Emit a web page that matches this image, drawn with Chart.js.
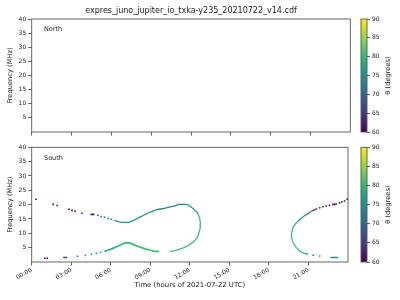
<!DOCTYPE html>
<html><head><meta charset="utf-8">
<script src="https://cdn.jsdelivr.net/npm/chart.js@4/dist/chart.umd.min.js"></script>
<style>
html,body{margin:0;padding:0;background:#fff;width:400px;height:300px;overflow:hidden}
#wrap{position:relative;width:400px;height:300px}
canvas{position:absolute}
</style></head><body><div id="wrap">
<canvas id="cTop" width="352" height="140" style="left:0;top:0"></canvas>
<canvas id="cBot" width="352" height="160" style="left:0;top:140px"></canvas>
<canvas id="cbTop" width="60" height="140" style="left:340px;top:0"></canvas>
<canvas id="cbBot" width="60" height="160" style="left:340px;top:140px"></canvas>
</div>
<script>
// ---------- data ----------
const chartTitle = 'expres_juno_jupiter_io_txka-y235_20210722_v14.cdf';
const xTitle = 'Time (hours of 2021-07-22 UTC)';
const yTitle = 'Frequency (MHz)';
const cbTitle = 'θ (degrees)';
const hourTicks = [0, 3, 6, 9, 12, 15, 18, 21];
const hourLabels = ['00:00', '03:00', '06:00', '09:00', '12:00', '15:00', '18:00', '21:00'];
const freqTicks = [5, 10, 15, 20, 25, 30, 35, 40];
const thetaTicks = [60, 65, 70, 75, 80, 85, 90];

// North hemisphere: no emission
const northTime = [];
const northFreq = [];
const northTheta = [];

// South hemisphere: main loop (continuous)
const loopTime  = [6.28, 6.53, 6.65, 7.00, 7.40, 7.54, 7.78, 8.03, 8.29, 8.54, 8.79, 9.04, 9.34, 9.67, 10.05, 10.42, 10.80, 11.17, 11.68, 11.93, 12.18, 12.43, 12.63, 12.74, 12.81, 12.78, 12.68, 12.56, 12.31, 11.93, 11.55, 11.18, 10.80, 10.47];
const loopFreq  = [14.5, 14.2, 13.9, 13.8, 13.8, 14.2, 14.6, 15.2, 15.8, 16.4, 17.0, 17.5, 18.0, 18.4, 18.7, 19.1, 19.5, 20.1, 20.1, 19.8, 18.9, 17.9, 16.7, 15.2, 13.5, 11.7, 10.0, 8.5, 7.1, 5.9, 5.0, 4.4, 3.9, 3.7];
const loopTheta = [74, 75, 76, 76, 76, 76, 76, 75, 75, 75, 74, 74, 73, 73, 73, 73, 73, 73, 74, 75, 76, 77, 78, 80, 81, 81, 81, 81, 81, 81, 81, 81, 81, 81];

// South: lower-left branch (continuous)
const lowTime  = [9.67, 9.29, 9.04, 8.67, 8.29, 7.91, 7.50, 7.20, 7.03, 6.78, 6.53, 6.28, 6.03, 5.77, 5.52];
const lowFreq  = [3.7, 3.7, 4.1, 4.5, 5.1, 5.7, 6.6, 6.7, 6.6, 6.0, 5.5, 5.0, 4.5, 4.1, 3.7];
const lowTheta = [81, 81, 81, 81, 81, 81, 81, 81, 81, 80, 80, 79, 79, 78, 78];

// South: right loop (continuous)
const rightTime  = [21.65, 21.42, 21.22, 21.05, 20.90, 20.75, 20.60, 20.47, 20.35, 20.22, 20.09, 19.97, 19.84, 19.77, 19.71, 19.71, 19.77, 19.84, 19.97, 20.09, 20.27, 20.47, 20.72, 20.97];
const rightFreq  = [18.6, 18.1, 17.7, 17.2, 16.7, 16.3, 15.8, 15.3, 14.9, 14.3, 13.7, 13.0, 12.2, 11.0, 9.9, 8.7, 7.6, 6.7, 5.8, 5.0, 4.1, 3.4, 3.0, 2.7];
const rightTheta = [64, 66, 68, 70, 72, 73, 74, 75, 76, 77, 78, 79, 80, 80, 81, 81, 81, 81, 81, 81, 80, 79, 78, 77];

// South: sparse dots
const dotsTime  = [0.32, 1.63, 1.93, 2.83, 3.06, 3.29, 3.82, 4.52, 4.61, 4.70, 5.02, 5.27, 5.52, 5.80, 6.03,
                   1.00, 1.18, 2.45, 2.55, 2.64, 3.47, 4.07, 4.52, 4.90, 5.22,
                   21.85, 22.10, 22.35, 22.60, 22.86, 22.98, 23.10, 23.36, 23.53, 23.74, 23.93,
                   21.35, 21.85, 22.73, 22.85, 22.95, 23.07, 23.18];
const dotsFreq  = [21.9, 20.1, 19.7, 18.4, 18.0, 17.7, 17.0, 16.6, 16.6, 16.6, 16.3, 15.9, 15.6, 15.2, 14.9,
                   1.3, 1.3, 1.6, 1.6, 1.6, 2.0, 2.3, 2.7, 3.0, 3.4,
                   18.9, 19.3, 19.5, 19.8, 20.1, 20.1, 20.2, 20.6, 20.9, 21.3, 21.9,
                   2.4, 2.1, 1.6, 1.6, 1.6, 1.6, 1.6];
const dotsTheta = [60, 60, 60, 60, 60, 60, 61, 63, 63, 63, 67, 69, 71, 72, 73,
                   60, 60, 66, 66, 66, 72, 74, 75, 76, 77,
                   63, 61, 60, 60, 60, 60, 60, 60, 60, 60, 60,
                   76, 76, 73, 73, 73, 73, 73];

// ---------- styling helpers ----------
const VIRIDIS = ['#440154','#482475','#414487','#355f8d','#2a788e','#21918c','#22a884','#44bf70','#7ad151','#bddf26','#fde725'];
const TH_MIN = 60, TH_MAX = 90;
function hex(c){return [parseInt(c.slice(1,3),16),parseInt(c.slice(3,5),16),parseInt(c.slice(5,7),16)];}
function viridis(th){
  let u = (th - TH_MIN) / (TH_MAX - TH_MIN); u = Math.max(0, Math.min(1, u));
  const p = u * (VIRIDIS.length - 1); const i = Math.min(Math.floor(p), VIRIDIS.length - 2); const f = p - i;
  const a = hex(VIRIDIS[i]), b = hex(VIRIDIS[i+1]);
  return 'rgb(' + a.map((v,k)=>Math.round(v + (b[k]-v)*f)).join(',') + ')';
}
const FONT = 'DejaVu Sans';
const TXT = '#222';
const AX = '#555';

const framePlugin = {
  id: 'frame',
  afterDraw(chart){
    const {ctx, chartArea: a} = chart;
    ctx.save(); ctx.strokeStyle = AX; ctx.lineWidth = 0.9;
    ctx.strokeRect(a.left, a.top, a.width, a.height);
    ctx.restore();
  }
};
const panelLabel = {
  id: 'panelLabel',
  afterDraw(chart, args, opts){
    if (!opts) return;
    const {ctx, chartArea: a} = chart;
    ctx.save(); ctx.fillStyle = TXT;
    if (opts.text) {
      ctx.font = '6.5px "' + FONT + '"';
      ctx.textAlign = 'left'; ctx.textBaseline = 'middle';
      ctx.fillText(opts.text, a.left + 12.3, a.top + 10.8);
    }
    if (opts.title) {
      ctx.font = '8px "' + FONT + '"';
      ctx.textAlign = 'center'; ctx.textBaseline = 'middle';
      ctx.fillText(opts.title, (a.left + a.right) / 2, a.top - 8);
    }
    ctx.restore();
  }
};

function lineSet(t, f, th, w){
  return {
    data: t.map((v,i)=>({x: v, y: f[i]})),
    showLine: true, pointRadius: 0, borderWidth: w, borderColor: viridis(th[0]),
    segment: { borderColor: c => viridis((th[c.p0DataIndex] + th[c.p1DataIndex]) / 2) },
    fill: false, tension: 0
  };
}
function dotSet(t, f, th){
  return {
    data: t.map((v,i)=>({x: v, y: f[i]})),
    showLine: false, pointStyle: 'rect', pointRadius: 1.1, pointBorderWidth: 0,
    pointBackgroundColor: th.map(v => viridis(v)), pointBorderColor: th.map(v => viridis(v))
  };
}

function mainOptions(isBottom, padTop, xHeight){
  return {
    responsive: false, animation: false, devicePixelRatio: 1,
    layout: { padding: { top: padTop, right: 1.7, left: 0, bottom: 0 } },
    plugins: {
      legend: { display: false }, tooltip: { enabled: false }, title: { display: false },
      panelLabel: { text: isBottom ? 'South' : 'North', title: isBottom ? '' : chartTitle }
    },
    scales: {
      x: {
        type: 'linear', min: 0, max: 24,
        afterBuildTicks: s => { s.ticks = hourTicks.map(v => ({ value: v })); },
        afterFit: s => { s.height = xHeight; },
        grid: { drawOnChartArea: false, drawTicks: true, tickLength: 3.5, color: AX, lineWidth: 0.9 },
        border: { display: false },
        ticks: {
          display: isBottom, autoSkip: false, minRotation: 30, maxRotation: 30, padding: 1,
          color: TXT, font: { family: FONT, size: 6 },
          callback: (v, i) => hourLabels[i]
        },
        title: isBottom ? { display: true, text: xTitle, color: TXT,
          font: { family: FONT, size: 6.9 }, padding: { top: 0, bottom: 10.2 } } : { display: false }
      },
      y: {
        type: 'linear', min: 0, max: 40,
        afterBuildTicks: s => { s.ticks = freqTicks.map(v => ({ value: v })); },
        afterFit: s => { s.width = 31.7; },
        grid: { drawOnChartArea: false, drawTicks: true, tickLength: 3.5, color: AX, lineWidth: 0.9 },
        border: { display: false },
        ticks: { padding: 2, color: TXT, font: { family: FONT, size: 6 } },
        title: { display: true, text: yTitle, color: TXT,
          font: { family: FONT, size: 6.7 }, padding: { top: 5.8, bottom: 0 } }
      }
    }
  };
}

new Chart(document.getElementById('cTop'), {
  type: 'scatter',
  data: { datasets: [ dotSet(northTime, northFreq, northTheta) ] },
  options: mainOptions(false, 19, 8),
  plugins: [framePlugin, panelLabel]
});

new Chart(document.getElementById('cBot'), {
  type: 'scatter',
  data: { datasets: [
    lineSet(loopTime, loopFreq, loopTheta, 1.3),
    lineSet(lowTime, lowFreq, lowTheta, 1.8),
    lineSet(rightTime, rightFreq, rightTheta, 1.3),
    dotSet(dotsTime, dotsFreq, dotsTheta)
  ] },
  options: mainOptions(true, 7.3, 38),
  plugins: [framePlugin, panelLabel]
});

const cbTitlePlugin = {
  id: 'cbTitle',
  afterDraw(chart){
    const {ctx, chartArea: a} = chart;
    ctx.save(); ctx.fillStyle = TXT; ctx.font = '6.7px "' + FONT + '"';
    ctx.translate(a.right + 21, (a.top + a.bottom) / 2); ctx.rotate(-Math.PI / 2);
    ctx.textAlign = 'center'; ctx.textBaseline = 'middle';
    ctx.fillText(cbTitle, 0, 0);
    ctx.restore();
  }
};
function colorbar(id, padTop, padBottom){
  new Chart(document.getElementById(id), {
    type: 'bar',
    data: { labels: [''], datasets: [{
      data: [[TH_MIN, TH_MAX]], barPercentage: 1, categoryPercentage: 1, borderWidth: 0,
      backgroundColor: c => {
        const a = c.chart.chartArea; if (!a) return VIRIDIS[5];
        const g = c.chart.ctx.createLinearGradient(0, a.bottom, 0, a.top);
        VIRIDIS.forEach((col, i) => g.addColorStop(i / (VIRIDIS.length - 1), col));
        return g;
      }
    }] },
    options: {
      responsive: false, animation: false, devicePixelRatio: 1,
      layout: { padding: { left: 21, top: padTop, bottom: padBottom, right: 0 } },
      plugins: { legend: { display: false }, tooltip: { enabled: false } },
      scales: {
        x: { display: false },
        y: {
          position: 'right', min: TH_MIN, max: TH_MAX,
          afterBuildTicks: s => { s.ticks = thetaTicks.map(v => ({ value: v })); },
          afterFit: s => { s.width = 33; },
          grid: { drawOnChartArea: false, drawTicks: true, tickLength: 3, color: AX, lineWidth: 0.9 },
          border: { display: false },
          ticks: { padding: 2, color: TXT, font: { family: FONT, size: 6 } }
        }
      }
    },
    plugins: [framePlugin, cbTitlePlugin]
  });
}
colorbar('cbTop', 19, 8);
colorbar('cbBot', 7.3, 38);
</script>
</body></html>
